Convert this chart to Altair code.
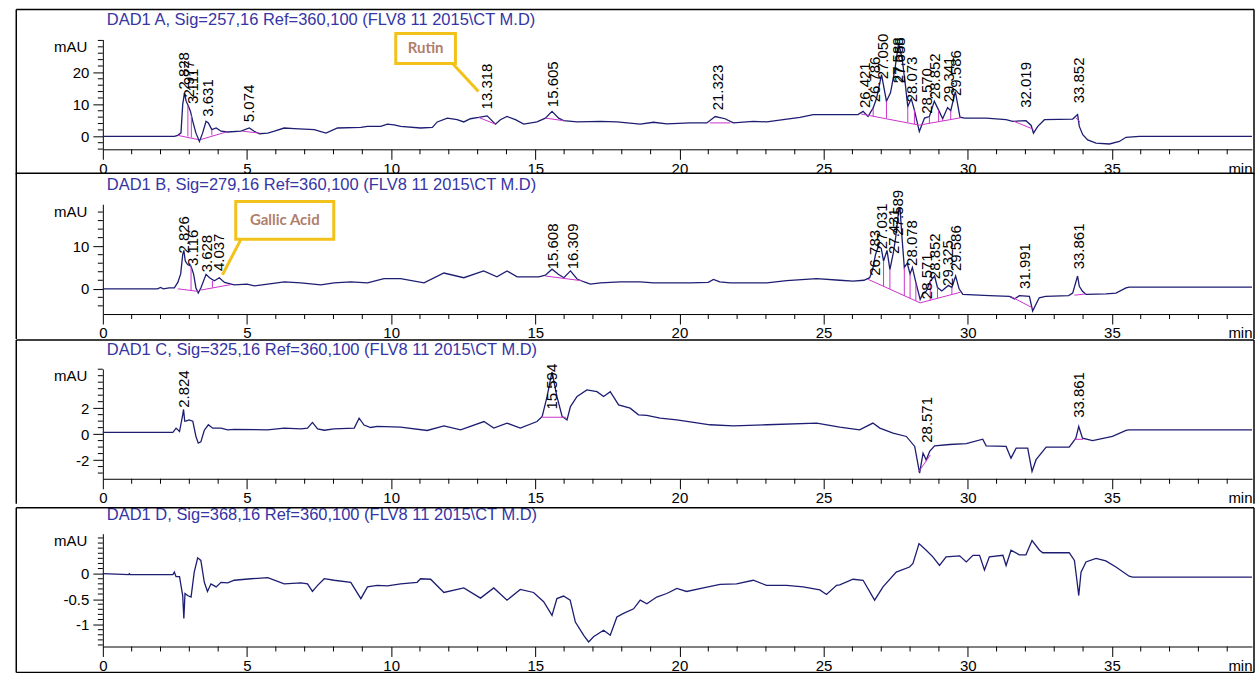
import altair as alt
import pandas as pd

FONT = "Liberation Sans"
TRACE_COLOR = "#1d1d72"
TITLE_COLOR = "#3535a5"
MAGENTA = "#cc33cc"
GOLD = "#f2c21b"
W = 1151
XMAX = 39.86

X_MAJOR = [0, 5, 10, 15, 20, 25, 30, 35]
X_MINOR = [t for t in range(1, 40) if t % 5 != 0]

TITLES = [
    r"DAD1 A, Sig=257,16 Ref=360,100 (FLV8 11 2015\CT M.D)",
    r"DAD1 B, Sig=279,16 Ref=360,100 (FLV8 11 2015\CT M.D)",
    r"DAD1 C, Sig=325,16 Ref=360,100 (FLV8 11 2015\CT M.D)",
    r"DAD1 D, Sig=368,16 Ref=360,100 (FLV8 11 2015\CT M.D)",
]

# ---- traces (time [min], signal [mAU]) ----
A_TRACE = [(0,0),(2.48,0),(2.6,0.3),(2.71,1.1),(2.77,9.9),(2.83,13.5),(2.89,11),(2.97,9.4),(3.04,7.8),(3.12,4.7),
    (3.23,1.0),(3.35,-1.6),(3.46,1.0),(3.58,4.7),(3.66,4.2),(3.78,2.1),(3.93,2.6),(4.1,1.6),(4.33,1.35),(4.79,1.6),
    (5.08,2.6),(5.25,1.6),(5.43,0.8),(5.72,1.0),(5.95,1.6),(6.29,2.6),(6.64,2.4),(7.33,2.1),(7.74,1.0),(8.14,2.6),
    (8.95,2.8),(9.18,3.1),(9.64,3.1),(9.87,3.8),(10.1,3.6),(10.33,3.1),(11.02,2.6),(11.43,2.8),(11.6,4.5),(11.95,5.7),
    (12.29,5.2),(12.52,4.5),(12.75,5.5),(13.04,5.9),(13.33,6.4),(13.62,3.8),(13.79,5.2),(14.02,6.2),(14.31,5.2),(14.6,3.8),
    (15.06,4.5),(15.35,5.7),(15.58,7.8),(15.81,5.7),(15.98,4.9),(16.45,4.5),(17.26,4.7),(17.83,4.5),(18.64,3.8),(19.1,4.4),
    (19.56,3.9),(20.37,4.2),(20.95,4.2),(21.24,6.2),(21.58,5.5),(21.87,4.2),(22.56,4.7),(23.03,4.5),(23.6,5.2),(24.18,5.9),
    (24.64,6.8),(25.56,6.8),(26.19,6.8),(26.37,7.8),(26.54,6.2),(26.72,8.9),(26.84,12),(27.01,19.3),(27.18,11),(27.32,13.6),
    (27.47,20.8),(27.6,29),(27.66,27),(27.73,24),(27.83,16.6),(27.92,9.3),(28.04,11.8),(28.15,8.2),(28.32,1.5),(28.5,5.7),
    (28.67,6.2),(28.84,11),(28.99,8.2),(29.13,5.5),(29.3,9),(29.41,8),(29.57,14),(29.73,6),(29.89,5.7),(30.64,5.7),
    (31.33,5.2),(31.56,4.7),(32.02,4.9),(32.2,3.4),(32.28,1.0),(32.43,3.1),(32.66,5.2),(33.64,5.4),(33.81,6.8),(33.87,3.1),
    (33.99,0.5),(34.16,-1.1),(34.45,-2.1),(34.91,-2.4),(35.26,-1.6),(35.49,-0.3),(35.95,0),(39.86,0)]

B_TRACE = [(0,0),(1.9,0),(2.0,0.3),(2.1,0),(2.3,0.2),(2.48,0.2),(2.6,1.5),(2.7,3.5),(2.77,8),(2.81,9),(2.86,6.5),
    (2.94,5.7),(3.06,5.3),(3.15,3.4),(3.23,0.2),(3.31,-1.0),(3.4,0.2),(3.58,3.4),(3.7,2.6),(3.87,1.9),(4.04,2.6),
    (4.22,1.5),(4.56,0.9),(5.0,1.1),(5.26,0.7),(5.72,1.1),(6.3,1.6),(6.87,1.4),(7.56,0.9),(8.02,1.4),(8.6,1.6),
    (9.18,1.4),(9.75,2.4),(10.33,2.4),(11.14,1.4),(11.83,3.7),(12.52,2.6),(13.21,4.2),(13.67,2.8),(14.02,4.2),(14.37,2.8),
    (15.12,2.8),(15.35,3.2),(15.58,4.6),(15.8,3.4),(15.99,2.6),(16.22,4.2),(16.45,2.3),(16.7,1.6),(16.91,1.1),(17.26,1.4),
    (17.95,1.6),(18.64,1.6),(19.1,1.4),(19.8,1.4),(20.37,1.4),(21.0,1.5),(21.18,2.2),(21.4,1.6),(21.76,1.4),(23.03,1.4),
    (23.72,1.9),(24.76,2.4),(25.56,2.0),(26.02,1.8),(26.4,2.0),(26.6,2.6),(26.7,4.5),(26.8,8),(26.9,10),(27.0,9.5),
    (27.08,6.5),(27.2,9),(27.3,4.5),(27.42,8.5),(27.5,12),(27.6,18),(27.65,19),(27.72,12),(27.8,5),(27.9,6),
    (28.0,3.5),(28.08,5),(28.2,1.5),(28.35,-2.5),(28.45,-1),(28.57,-0.5),(28.7,1.8),(28.85,3),(28.95,0.3),(29.1,-0.5),
    (29.33,0.8),(29.45,0.3),(29.58,3),(29.7,0),(29.83,-1.3),(30.75,-1.6),(31.45,-1.8),(31.62,-2.4),(31.79,-1.6),(32.14,-1.8),
    (32.25,-5.2),(32.48,-2.1),(32.7,-1.8),(33.5,-1.6),(33.64,-1.0),(33.81,3.0),(33.87,0.6),(33.98,-0.6),(34.1,-1.3),(34.8,-1.2),
    (35.14,-1.0),(35.49,0.2),(35.6,0.4),(39.86,0.4)]

C_TRACE = [(0,0.13),(2.43,0.13),(2.54,0.46),(2.66,0.2),(2.77,1.48),(2.8,1.9),(2.84,1.0),(2.88,1.0),(2.99,1.1),(3.12,1.0),
    (3.23,-0.18),(3.31,-0.7),(3.4,-0.6),(3.52,0.3),(3.66,0.72),(3.81,0.46),(4.1,0.46),(4.33,0.33),(4.56,0.36),(5.71,0.33),
    (6.29,0.46),(6.87,0.4),(7.1,0.46),(7.27,0.9),(7.45,0.4),(7.68,0.3),(8.02,0.4),(8.72,0.46),(8.89,1.23),(9.06,0.7),
    (9.29,0.51),(9.52,0.6),(10.33,0.54),(11.25,0.28),(11.83,0.64),(12.41,0.33),(13.22,0.97),(13.56,0.46),(14.02,0.85),(14.48,0.46),
    (15.06,0.97),(15.24,1.36),(15.41,2.9),(15.58,4.8),(15.75,2.9),(15.93,1.36),(16.1,1.1),(16.22,2.12),(16.45,2.9),(16.79,3.4),
    (17.14,3.27),(17.37,2.9),(17.6,3.27),(17.89,2.25),(18.29,2.0),(18.58,1.49),(18.87,1.45),(19.33,1.23),(19.91,1.1),(20.49,0.9),
    (21.06,0.72),(21.87,0.64),(23.03,0.72),(24.76,0.85),(25.56,0.54),(26.25,0.33),(26.71,0.85),(26.95,0.46),(27.41,0.08),(27.87,-0.18),
    (28.16,-0.95),(28.33,-3.0),(28.45,-1.46),(28.56,-2.0),(28.68,-1.33),(28.85,-0.9),(29.37,-0.8),(29.95,-0.74),(30.52,-0.39),(30.64,-0.9),
    (31.33,-0.95),(31.5,-1.85),(31.68,-1.08),(32.08,-1.08),(32.23,-2.87),(32.37,-1.97),(32.72,-1.0),(33.52,-1.0),(33.75,-0.31),(33.85,0.59),
    (33.98,-0.31),(34.33,-0.5),(35.02,-0.18),(35.49,0.28),(35.6,0.33),(39.86,0.33)]

D_TRACE = [(0,0),(0.9,-0.02),(0.92,0.0),(0.95,-0.02),(2.43,-0.02),(2.48,0.03),(2.54,-0.06),(2.66,-0.06),(2.71,-0.23),(2.77,-0.43),
    (2.81,-0.88),(2.85,-0.39),(2.94,-0.43),(3.06,-0.46),(3.17,0.03),(3.29,0.31),(3.4,0.26),(3.52,-0.17),(3.63,-0.35),(3.75,-0.2),
    (3.93,-0.26),(4.1,-0.17),(4.33,-0.18),(4.56,-0.13),(5.14,-0.1),(5.72,-0.08),(6.29,-0.2),(6.87,-0.18),(7.1,-0.2),(7.27,-0.35),
    (7.45,-0.23),(7.68,-0.1),(8.02,-0.13),(8.6,-0.17),(8.95,-0.49),(9.18,-0.26),(9.52,-0.23),(9.87,-0.24),(10.33,-0.2),(10.9,-0.17),
    (11.02,-0.1),(11.37,-0.11),(11.83,-0.37),(12.52,-0.28),(13.1,-0.48),(13.56,-0.28),(14.02,-0.52),(14.48,-0.31),(14.94,-0.37),(15.29,-0.55),
    (15.58,-0.82),(15.75,-0.49),(15.98,-0.44),(16.21,-0.52),(16.39,-0.95),(16.68,-1.21),(16.85,-1.34),(17.02,-1.24),(17.37,-1.11),(17.6,-1.21),
    (17.83,-0.85),(18.06,-0.78),(18.41,-0.69),(18.64,-0.52),(18.87,-0.59),(19.21,-0.46),(19.56,-0.39),(19.91,-0.29),(20.25,-0.35),(20.83,-0.28),
    (21.41,-0.21),(21.98,-0.2),(22.56,-0.13),(23.02,-0.23),(23.72,-0.23),(24.29,-0.26),(24.87,-0.32),(25.1,-0.41),(25.45,-0.23),(25.56,-0.22),
    (26.02,-0.11),(26.37,-0.13),(26.77,-0.52),(27.06,-0.26),(27.52,0.03),(27.98,0.13),(28.1,0.2),(28.31,0.59),(28.56,0.46),(28.79,0.33),
    (29.02,0.16),(29.25,0.33),(29.72,0.35),(29.95,0.23),(30.18,0.36),(30.41,0.36),(30.58,0.07),(30.75,0.33),(31.22,0.36),(31.33,0.16),
    (31.5,0.46),(31.79,0.37),(32.02,0.37),(32.23,0.65),(32.49,0.46),(32.6,0.41),(33.52,0.41),(33.7,0.26),(33.78,-0.1),(33.85,-0.43),
    (33.93,0.03),(34.1,0.23),(34.45,0.3),(34.79,0.25),(35.14,0.13),(35.6,-0.05),(35.72,-0.07),(39.86,-0.07)]

# ---- peak labels: (retention time text, label start level) ----
A_PEAKS = [("2.828",14.0),("2.977",11.5),("3.111",9.5),("3.631",5.5),("5.074",3.8),("13.318",7.8),("15.605",8.5),
    ("21.323",7.5),("26.421",8.2),("26.786",10),("27.050",17.2),("27.588",16),("27.658",16),("28.073",10),("28.570",6.4),
    ("28.852",11),("29.341",10),("29.586",12),("32.019",8.3),("33.852",9.7)]
B_PEAKS = [("2.826",7.8),("3.116",4.9),("3.628",3.4),("4.037",3.7),("15.608",4.1),("16.309",4.1),("26.783",2.6),
    ("27.031",8.8),("27.431",7.7),("27.589",12),("28.078",4.9),("28.571",-2.9),("28.852",1.8),("29.325",0.2),("29.586",3.7),
    ("31.991",-0.5),("33.861",4.1)]
C_PEAKS = [("2.824",1.87),("15.594",1.74),("28.571",-0.82),("33.861",1.1)]
D_PEAKS = []

# ---- integration baselines (t1, v1, t2, v2) and drop lines (t, low, high) ----
A_BASE = [(2.6,0.3,3.3,-1.0),(3.4,-1.0,4.3,1.4),(4.85,1.6,5.45,1.0),(13.04,5.9,13.62,3.8),(15.35,5.7,15.98,4.9),
    (21.06,4.2,21.76,4.2),(26.3,7.0,28.32,3.5),(28.32,3.5,29.75,5.8),(31.6,4.7,32.28,2.2),(33.75,5.8,33.9,4.5)]
A_DROPS = [(2.95,-0.05,9.6),(3.07,-0.4,6.5),(3.78,0.3,2.1),(26.72,6.27,8.9),(27.18,5.65,11),(27.92,4.4,9.3),
    (28.15,3.8,8.2),(28.67,4.06,6.2),(28.99,4.58,8.2),(29.13,4.8,5.5),(29.41,5.25,8)]
B_BASE = [(2.6,0.0,3.3,-0.6),(3.4,-0.3,4.45,1.0),(15.35,3.0,16.6,1.9),(26.55,2.2,28.35,-3.3),(28.35,-3.3,29.75,-0.8),
    (31.5,-1.8,32.25,-4.5),(33.7,-1.5,34.1,-1.2)]
B_DROPS = [(3.06,-0.4,5.3),(3.8,0.3,1.9),(15.99,2.5,2.6),(27.08,0.58,6.5),(27.3,-0.09,4.5),(27.8,-1.62,5),
    (28.0,-2.23,3.5),(28.2,-2.84,1.5),(28.7,-2.67,1.8),(28.95,-2.23,0.3),(29.45,-1.34,0.3)]
C_BASE = [(15.25,1.3,16.05,1.3),(28.3,-2.9,28.7,-1.6),(33.7,-0.4,34.0,-0.4)]
C_DROPS = [(15.25,1.3,1.36),(16.05,1.15,1.3)]
D_BASE = []
D_DROPS = []

# ---- axes ----
Y_DOMAINS = [[-4.06, 30.3], [-5.92, 19.84], [-3.44, 5.02], [-1.43, 0.784]]
Y_MAJOR = [[0, 10, 20], [0, 10], [-2, 0, 2], [-1, -0.5, 0]]
Y_MINOR = [[-4, -2, 2, 4, 6, 8, 12, 14, 16, 18, 22, 24, 26, 28, 30],
           [-4, -2, 2, 4, 6, 8, 12, 14, 16, 18],
           [-3, -2.5, -1.5, -1, -0.5, 0.5, 1, 1.5, 2.5, 3, 3.5, 4, 4.5, 5],
           [-1.4, -1.3, -1.2, -1.1, -0.9, -0.8, -0.7, -0.6, -0.4, -0.3, -0.2, -0.1, 0.1, 0.2, 0.3, 0.4, 0.5, 0.6, 0.7]]
HEIGHTS = [110, 110, 110, 113]
FRAME_TOP = [-30, -31, -29, -26]

# ---- annotation callouts ----
CALLOUTS = {
    0: dict(text="Rutin", x=10.16, x2=12.23, y=22.8, y2=32.2, lx=12.13, ly=22.8, lx2=13.03, ly2=14.05),
    1: dict(text="Gallic Acid", x=4.61, x2=8.01, y=11.6, y2=20.5, lx=4.79, ly=11.6, lx2=4.15, ly2=3.3),
}


def panel(i, trace, peaks, base, drops):
    h = HEIGHTS[i]
    xs = alt.Scale(domain=[0, XMAX], nice=False, zero=False)
    ys = alt.Scale(domain=Y_DOMAINS[i], nice=False, zero=False)
    xax = alt.Axis(values=X_MAJOR, tickSize=10, labelPadding=2, labelFont=FONT, labelFontSize=15,
                   labelColor="black", labelFlush=False, labelOverlap=False, grid=False,
                   domainColor="black", tickColor="black", title="min", titleFont=FONT, titleFontSize=15,
                   titleFontWeight="normal", titleColor="black", titleAngle=0, titleAlign="right",
                   titleBaseline="top", titleX=W, titleY=12)
    yax = alt.Axis(values=Y_MAJOR[i], labelExpr="replace(format(datum.value, '.1~f'), '\u2212', '-')",
                   tickSize=10, labelPadding=4, labelFont=FONT,
                   labelFontSize=15, labelColor="black", labelOverlap=False, grid=False,
                   domainColor="black", tickColor="black",
                   title="mAU", titleFont=FONT, titleFontSize=15, titleFontWeight="normal", titleColor="black",
                   titleAngle=0, titleAlign="right", titleBaseline="middle", titleX=-16, titleY=7)
    X = lambda f="t": alt.X(f + ":Q", scale=xs, axis=xax)
    Y = lambda f="v": alt.Y(f + ":Q", scale=ys, axis=yax)

    df = pd.DataFrame(trace, columns=["t", "v"])
    line = alt.Chart(df).mark_line(color=TRACE_COLOR, strokeWidth=1.3).encode(x=X(), y=Y())
    layers = [line]

    if base:
        bdf = pd.DataFrame(base, columns=["t", "v", "t2", "v2"])
        layers.append(alt.Chart(bdf).mark_rule(color=MAGENTA, strokeWidth=1).encode(
            x=X(), y=Y(), x2="t2:Q", y2="v2:Q"))
    if drops:
        ddf = pd.DataFrame(drops, columns=["t", "v", "v2"])
        layers.append(alt.Chart(ddf).mark_rule(color=MAGENTA, strokeWidth=1).encode(
            x=X(), y=Y(), y2="v2:Q"))
    if peaks:
        pdf = pd.DataFrame(peaks, columns=["label", "v"])
        pdf["t"] = pdf["label"].astype(float)
        layers.append(alt.Chart(pdf).mark_text(angle=270, align="left", baseline="middle", font=FONT,
                                               fontSize=15, color="black", dx=2).encode(
            x=X(), y=Y(), text="label:N"))

    # minor ticks
    layers.append(alt.Chart(pd.DataFrame({"t": X_MINOR})).mark_rule(color="black").encode(
        x=X(), y=alt.value(h), y2=alt.value(h + 5)))
    layers.append(alt.Chart(pd.DataFrame({"v": Y_MINOR[i]})).mark_rule(color="black").encode(
        y=Y(), x=alt.value(0), x2=alt.value(-5)))

    # panel title
    layers.append(alt.Chart(pd.DataFrame({"title": [TITLES[i]]})).mark_text(
        align="left", baseline="middle", font=FONT, fontSize=16.5, color=TITLE_COLOR).encode(
        x=alt.value(4), y=alt.value(-19), text="title:N"))

    # frame of the panel
    ft = FRAME_TOP[i]
    fb = h + 25 if i < 3 else h + 26
    one = pd.DataFrame({"k": [0]})
    layers.append(alt.Chart(one).mark_rule(color="black", strokeWidth=1.5).encode(
        x=alt.value(-86.7), x2=alt.value(W + 2), y=alt.value(ft)))
    layers.append(alt.Chart(one).mark_rule(color="black", strokeWidth=1.5).encode(
        x=alt.value(-86.7), y=alt.value(ft), y2=alt.value(fb)))
    layers.append(alt.Chart(one).mark_rule(color="black", strokeWidth=1.5).encode(
        x=alt.value(W + 2), y=alt.value(ft), y2=alt.value(fb)))
    if i == 3:
        layers.append(alt.Chart(one).mark_rule(color="black", strokeWidth=1.5).encode(
            x=alt.value(-86.7), x2=alt.value(W + 2), y=alt.value(fb)))

    if i in CALLOUTS:
        c = CALLOUTS[i]
        cdf = pd.DataFrame([c])
        cdf["tx"] = (cdf["x"] + cdf["x2"]) / 2
        cdf["ty"] = (cdf["y"] + cdf["y2"]) / 2
        layers.append(alt.Chart(cdf).mark_rule(color=GOLD, strokeWidth=3).encode(
            x=X("lx"), y=Y("ly"), x2="lx2:Q", y2="ly2:Q"))
        layers.append(alt.Chart(cdf).mark_rect(fill="white", stroke=GOLD, strokeWidth=3).encode(
            x=X("x"), x2="x2:Q", y=Y("y"), y2="y2:Q"))
        layers.append(alt.Chart(cdf).mark_text(font="Lato", fontWeight="bold", fontSize=15,
                                               color="#b07f6c").encode(
            x=X("tx"), y=Y("ty"), text="text:N"))

    return alt.layer(*layers).properties(width=W, height=h)


panels = [
    panel(0, A_TRACE, A_PEAKS, A_BASE, A_DROPS),
    panel(1, B_TRACE, B_PEAKS, B_BASE, B_DROPS),
    panel(2, C_TRACE, C_PEAKS, C_BASE, C_DROPS),
    panel(3, D_TRACE, D_PEAKS, D_BASE, D_DROPS),
]

chart = alt.vconcat(*panels, spacing=55, bounds="flush").properties(
    padding={"left": 15, "top": 8, "right": 2, "bottom": 0},
    background="white",
).configure_view(stroke=None)

chart.save("out.html", embed_options={"renderer": "svg", "actions": False})
